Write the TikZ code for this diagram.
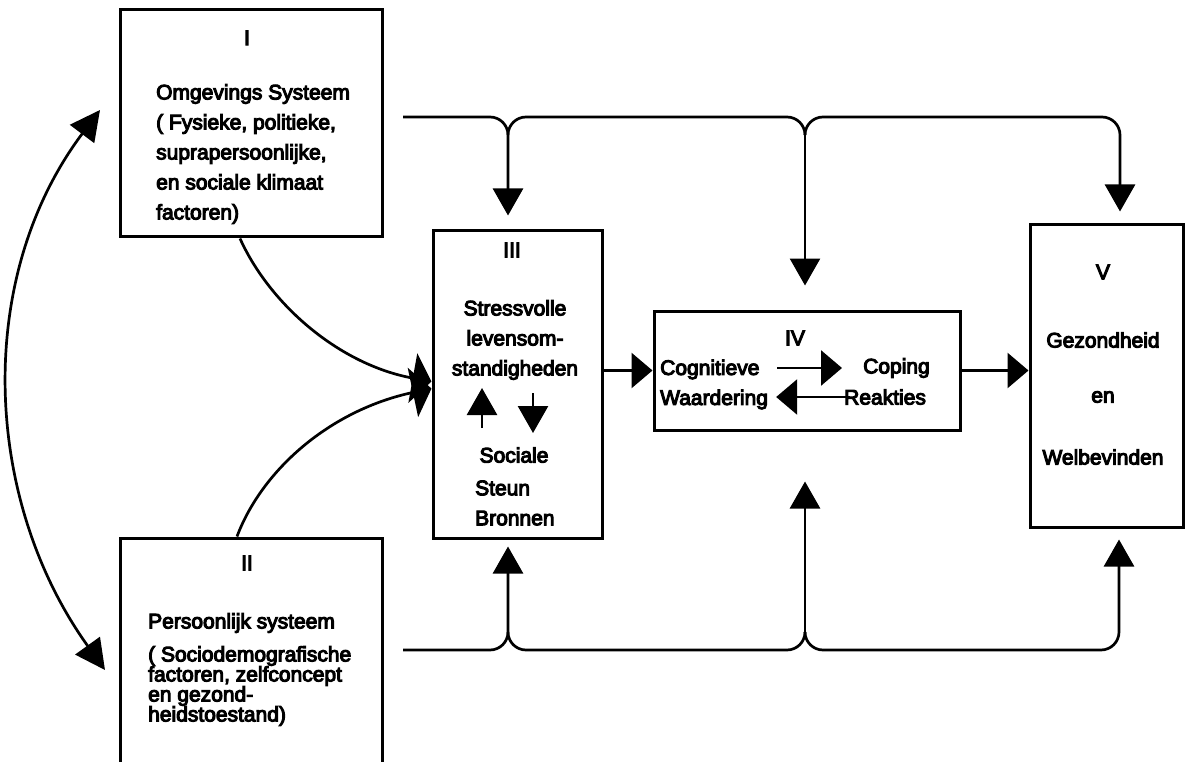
\documentclass[tikz,border=0pt]{standalone}
\usepackage{fontspec}
\newfontfamily\diafont{Liberation Sans}[FakeBold=5]
\usetikzlibrary{arrows.meta,positioning}
\newcommand\tightlines{\lineskiplimit=-20pt\relax}

\begin{document}
\begin{tikzpicture}[x=1pt, y=-1pt,
  box/.style={draw, line width=3pt, inner sep=0pt},
  txt/.style={font=\diafont\fontsize{21}{30}\selectfont, inner sep=0pt},
  tight/.style={font={\diafont\fontsize{21}{20}\selectfont\tightlines}, inner sep=0pt},
  flow/.style={line width=2.7pt, -{Triangle[width=30pt,length=27pt]}},
  side/.style={line width=2.7pt, -{Triangle[width=35pt,length=21pt]}},
  merge/.style={line width=2.7pt, -{Triangle[width=50pt,length=19pt]}},
  bus/.style={line width=2.7pt, rounded corners=18pt},
]
\clip (0,0) rectangle (1186,762);

% boxes (pixel coordinates, y pointing down)
\node[box, minimum width=262pt, minimum height=227pt] (I)   at (251,123.5) {};
\node[box, minimum width=262pt, minimum height=262pt] (II)  at (251,669) {};
\node[box, minimum width=169pt, minimum height=307pt] (III) at (517.5,384.5) {};
\node[box, minimum width=306pt, minimum height=119pt] (IV)  at (807,370.5) {};
\node[box, minimum width=153pt, minimum height=302pt] (V)   at (1106.5,376) {};

% box I
\node[txt] (nI) at (247,38) {I};
\node[txt, anchor=west, align=left] (omg) at (156,154)
  {Omgevings Systeem\\( Fysieke, politieke,\\suprapersoonlijke,\\en sociale klimaat\\factoren)};

% box II
\node[txt] (nII) at (247,563) {II};
\node[txt, anchor=west] (pers) at (148,623) {Persoonlijk systeem};
\node[tight, anchor=west, align=left] (socio) at (148,686)
  {( Sociodemografische\\factoren, zelfconcept\\en gezond-\\heidstoestand)};

% box III
\node[txt] (nIII) at (512,250) {III};
\node[txt, align=center] (stress) at (515,340) {Stressvolle\\levensom-\\standigheden};
\node[txt] (soc) at (514,455) {Sociale};
\node[txt, anchor=west, align=left] (steun) at (475,503) {Steun\\Bronnen};
\coordinate (upS) at (482,428);
\coordinate (upE) at (482,388);
\coordinate (dnS) at (533,393);
\coordinate (dnE) at (533,433);
\draw[flow] (upS) -- (upE);
\draw[flow] (dnS) -- (dnE);

% box IV
\node[txt] (nIV) at (795,338) {IV};
\node[txt, anchor=west, align=left] (cog) at (660,384.5) {Cognitieve\\Waardering};
\node[txt, anchor=west] (cop) at (863,368) {Coping};
\node[txt, anchor=west] (rea) at (844,397) {Reakties};
\draw[side, shorten <=9pt, shorten >=21pt] (cog.east |- cop.west) -- (cop.west);
\draw[side, shorten <=-6pt, shorten >=8pt] (rea.west) -- (rea.west -| cog.east);

% box V
\foreach \nm/\yy/\tx in {nV/272/V, gez/340/Gezondheid, en/397/en, welb/457/Welbevinden}
  \node[txt] (\nm) at (1103,\yy) {\tx};

% top and bottom lines
\coordinate (tS) at (403,117);
\coordinate (tA) at (508,117);
\coordinate (tB) at (805,117);
\coordinate (tC) at (1120,117);
\draw[bus, flow, shorten >=14pt] (tS) -- (tA) -- (tA |- III.north);
\draw[bus] ([yshift=-18pt]tA) -- (tA) -- (tB) -- ([yshift=-18pt]tB);
\draw[bus, flow, shorten >=12pt] ([yshift=-18pt]tB) -- (tB) -- (tC) -- (tC |- V.north);
\draw[flow, shorten >=24pt] ([yshift=-18pt]tB) -- (tB |- IV.north);

\coordinate (bS) at (403,650);
\coordinate (bA) at (508,650);
\coordinate (bB) at (805,650);
\coordinate (bC) at (1119,650);
\draw[bus, flow, shorten >=7pt] (bS) -- (bA) -- (bA |- III.south);
\draw[bus] ([yshift=18pt]bA) -- (bA) -- (bB) -- ([yshift=18pt]bB);
\draw[bus, flow, shorten >=11pt] ([yshift=18pt]bB) -- (bB) -- (bC) -- (bC |- V.south);
\draw[flow, shorten >=50pt] ([yshift=18pt]bB) -- (bB |- IV.south);

% III -> IV -> V
\draw[side] (IV.west -| III.east) -- (IV.west);
\draw[side] (IV.east) -- (IV.east -| V.west);

% I and II into III
\draw[merge] ([xshift=-11pt]I.south) .. controls (270,305) and (340,365) .. ([yshift=3pt]III.west);
\draw[merge] ([xshift=-14pt]II.north) .. controls (262,470) and (330,410) .. ([yshift=-4pt]III.west);

% I <-> II
\coordinate (dT) at (100,110);
\coordinate (dB) at (105,670);
\draw[line width=2.7pt, {Triangle[width=30pt,length=30pt]}-{Triangle[width=30pt,length=30pt]}]
  (dT) .. controls (-26,278) and (-17,500) .. (dB);
\end{tikzpicture}
\end{document}
